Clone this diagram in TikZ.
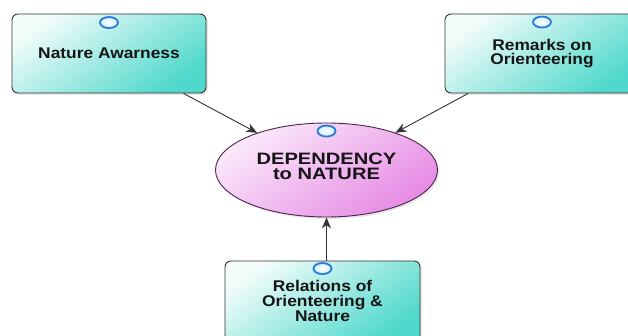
\documentclass[tikz,border=0pt]{standalone}
\usepackage{fontspec}
\newfontfamily\boxfont[FakeStretch=1.12]{Liberation Sans}
\newfontfamily\ellfont[FakeStretch=1.22]{Liberation Sans}
\usetikzlibrary{shapes.geometric,shadows,arrows.meta,calc}
\definecolor{boxlight}{HTML}{F2FCFA}
\definecolor{boxdark}{HTML}{4FD8CB}
\definecolor{elllight}{HTML}{FBE9FA}
\definecolor{elldark}{HTML}{E68AE4}
\definecolor{edgegray}{HTML}{333333}
\definecolor{ellborder}{HTML}{4A2448}
\definecolor{knobblue}{HTML}{2A7AD8}
\definecolor{knobin}{HTML}{CFEFFF}
\definecolor{txt}{HTML}{151515}
\tikzset{
  topicbox/.style={rectangle, rounded corners=6pt, draw=edgegray, line width=0.9pt,
    minimum width=194pt, minimum height=79pt, inner sep=0pt, align=center,
    top color=boxlight, bottom color=boxdark, shading angle=35,
    drop shadow={shadow xshift=2pt, shadow yshift=-2pt, opacity=0.18},
    font=\boxfont\bfseries\fontsize{15.5}{14.8}\selectfont, text=txt},
  centreell/.style={ellipse, draw=ellborder, line width=0.9pt,
    minimum width=222pt, minimum height=94pt, inner sep=0pt, align=center,
    top color=elllight, bottom color=elldark, shading angle=35,
    drop shadow={shadow xshift=2pt, shadow yshift=-2pt, opacity=0.18},
    font=\ellfont\bfseries\fontsize{16.5}{15}\selectfont, text=txt},
  knob/.style={ellipse, draw=knobblue, line width=1.8pt, minimum width=18pt,
    minimum height=11pt, inner sep=0pt, inner color=white, outer color=knobin},
  link/.style={draw=edgegray, line width=0.9pt, -{Stealth[length=11pt,width=9pt]}}
}
\begin{document}
\begin{tikzpicture}[x=1pt,y=-1pt]
\useasboundingbox (0,0) rectangle (628,336);
\fill[white] (0,0) rectangle (628,336);
\node[topicbox] (b1) at (109,53.5) {Nature Awarness};
\node[topicbox] (b2) at (542,53.5) {Remarks on\\Orienteering};
\node[topicbox, minimum width=195pt, minimum height=80pt] (b3) at (322.5,301) {Relations of\\Orienteering \&\\Nature};
\node[centreell] (ell) at (326.5,170) {};
\node[font=\ellfont\bfseries\fontsize{16.5}{15}\selectfont, text=txt, align=center] (elltext) at (326.5,166) {DEPENDENCY\\to NATURE};
\node[knob] (k1) at ($(b1.north)+(0,9)$) {};
\node[knob] (k2) at ($(b2.north)+(0,8.5)$) {};
\node[knob] (k3) at ($(ell.north)+(0,8.5)$) {};
\node[knob] (k4) at ($(b3.north)+(0,8)$) {};
\draw[link] (b1) -- (ell);
\draw[link] (b2) -- (ell);
\draw[link] (b3.north -| ell.south) -- (ell.south);
\end{tikzpicture}
\end{document}
